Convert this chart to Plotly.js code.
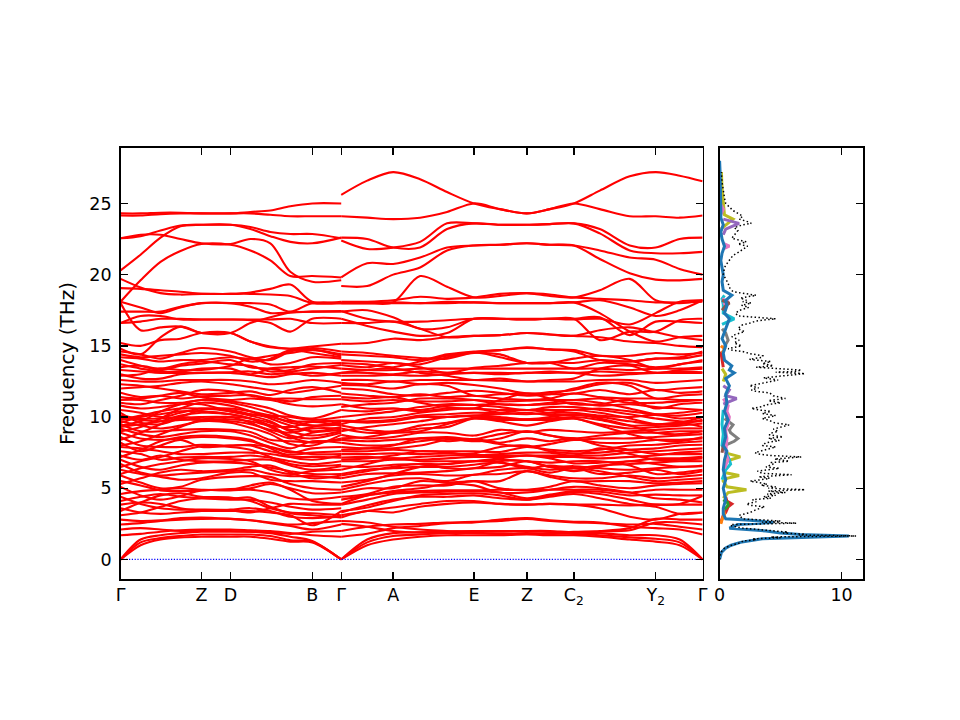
<!DOCTYPE html>
<html><head><meta charset="utf-8">
<script src="https://cdn.plot.ly/plotly-3.0.1.min.js"></script>
<style>html,body{margin:0;padding:0;background:#fff}</style></head>
<body><div id="chart" style="width:960px;height:720px"></div>
<script>
const tickPos=[0,81,110,192,221,273,354,407,454,536,583];
const tickText=["Γ","Z","D","B","Γ","A","E","Z","C<sub>2</sub>","Y<sub>2</sub>","Γ"];
const leftQ=[0,20,40,60,81,110,130,150,170,192,221];
const rightQ=[221,247,273,300,327,354,380,407,430,454,480,510,536,560,583];
const zeroLineQ=[0,583];
const zeroLineF=[0,0];
const leftBands=[
[0,1.0,1.4,1.55,1.6,1.6,1.6,1.45,1.25,1.2,0],
[0,1.2,1.5,1.65,1.75,1.75,1.75,1.65,1.35,1.25,0],
[0,1.4,1.7,1.85,1.95,1.95,1.95,1.85,1.6,1.3,0],
[1.7,1.8,1.95,2.05,2.1,2.1,2.05,2.0,1.85,1.7,1.6],
[2.1,2.2,2.1,2.0,2.0,2.0,1.95,1.9,1.8,1.95,2.0],
[2.45,2.55,2.7,2.8,2.85,2.85,2.75,2.55,2.35,2.1,2.45],
[2.8,2.7,2.75,2.9,2.95,2.85,2.75,2.6,2.45,2.55,2.7],
[3.1,3.3,3.7,4.1,4.3,4.25,4.35,3.7,3.25,3.1,2.95],
[3.4,4.0,4.5,4.65,4.4,4.35,4.1,3.6,3.3,3.25,3.1],
[3.6,3.3,3.2,3.3,3.4,3.5,3.6,3.4,3.0,2.9,3.0],
[3.85,4.0,3.9,3.6,3.45,3.4,3.4,3.3,3.1,2.4,3.4],
[4.1,4.4,4.6,4.4,4.3,4.2,4.2,4.0,3.7,3.5,3.6],
[4.4,3.9,3.6,3.5,3.5,3.45,3.3,3.6,3.9,3.85,3.85],
[4.6,4.8,4.9,5.0,4.9,4.9,5.2,5.4,4.9,4.1,3.9],
[5.1,4.5,4.2,4.45,4.85,4.85,4.9,4.7,4.3,4.2,4.4],
[5.3,5.7,6.1,6.3,6.2,6.3,6.5,6.6,6.1,5.7,5.9],
[5.5,5.2,4.85,4.8,4.85,4.95,5.0,5.3,5.0,4.65,4.7],
[5.9,5.4,5.0,5.1,5.6,5.8,5.85,5.8,5.3,5.0,4.9],
[6.0,6.4,6.7,6.9,7.1,7.05,6.9,6.3,6.0,6.2,6.3],
[6.3,6.0,5.8,5.6,5.7,6.1,6.1,5.6,5.5,5.5,5.4],
[6.5,6.9,7.2,7.6,7.95,7.9,7.7,7.2,6.7,6.55,6.65],
[6.7,6.1,5.9,6.0,6.1,6.2,6.3,6.0,5.85,5.85,5.7],
[7.0,6.5,6.3,6.6,6.8,6.8,6.7,6.45,6.2,6.0,6.0],
[7.2,7.7,8.3,8.6,8.7,8.6,8.4,7.8,7.2,7.0,7.3],
[7.3,7.0,7.3,7.0,6.9,6.9,7.0,7.0,6.6,6.3,6.55],
[7.6,7.4,7.0,7.15,7.2,7.2,7.3,7.15,6.9,6.7,6.9],
[7.9,7.8,7.6,7.4,7.4,7.5,7.5,7.4,7.2,7.2,7.15],
[8.0,8.3,8.8,9.3,9.8,10.0,9.6,9.0,8.5,8.9,9.1],
[8.2,7.6,8.0,8.4,7.9,8.0,8.05,7.9,7.6,7.4,7.4],
[8.4,8.9,9.5,10.0,10.5,10.6,10.4,10.1,9.6,9.4,9.6],
[8.6,8.0,7.9,7.9,8.05,8.0,8.0,7.6,7.35,7.5,7.6],
[8.9,8.5,8.4,8.5,8.6,8.5,8.3,7.9,7.5,7.8,7.9],
[9.0,9.3,9.9,10.6,11.0,10.8,10.4,9.9,9.4,9.0,9.3],
[9.2,8.8,8.6,8.8,9.0,9.0,8.7,8.2,7.8,8.3,8.2],
[9.3,9.5,9.7,10.1,10.3,10.2,9.9,9.3,8.6,8.2,8.5],
[9.4,9.7,10.4,10.9,11.2,11.0,10.7,10.3,9.8,9.4,9.5],
[9.5,9.0,9.0,9.1,9.15,9.1,8.95,8.4,8.3,8.25,8.4],
[9.6,10.0,10.2,10.4,10.4,10.2,9.9,9.4,8.7,8.5,8.9],
[9.7,9.4,9.2,9.4,9.7,9.6,9.25,8.8,8.1,8.0,8.75],
[9.8,10.1,10.4,10.6,10.6,10.4,10.1,9.7,9.0,8.7,9.0],
[9.9,9.8,9.7,9.8,9.8,9.7,9.5,9.1,8.9,9.2,9.2],
[10.1,9.9,9.9,10.0,9.85,9.85,9.7,9.4,9.3,9.65,9.4],
[10.3,9.6,9.5,9.9,10.0,10.0,9.9,9.6,9.1,9.3,9.7],
[10.5,10.3,10.0,10.3,10.6,10.5,10.2,10.0,9.7,9.7,9.75],
[10.8,10.6,10.7,10.9,10.9,10.4,10.2,10.1,10.0,9.8,10.0],
[11.0,10.9,11.2,11.5,11.9,11.8,11.5,11.3,11.1,11.4,11.5],
[11.2,11.2,11.0,11.0,11.2,11.1,10.9,10.6,10.1,9.9,10.5],
[11.4,11.3,11.5,11.7,11.4,11.2,11.3,11.2,10.9,10.75,10.9],
[11.7,11.4,11.5,11.3,11.45,11.5,11.55,11.3,11.3,11.25,11.25],
[12.0,12.1,12.2,12.4,12.5,12.3,12.1,11.9,11.7,11.9,12.2],
[12.3,12.2,12.0,11.8,11.6,11.7,11.8,11.55,11.9,12.1,11.7],
[12.6,12.5,12.5,12.6,12.6,12.6,12.5,12.3,12.4,12.6,12.4],
[12.9,13.0,13.4,13.3,13.3,13.6,14.1,13.7,13.8,14.2,14.1],
[13.0,12.7,12.7,13.0,13.1,13.1,12.95,12.8,13.0,13.1,12.9],
[13.3,13.2,13.1,13.1,13.1,13.15,13.2,13.0,13.1,12.9,13.1],
[13.5,13.6,13.4,13.7,13.9,13.7,13.6,13.2,13.3,13.7,13.8],
[13.7,13.4,13.2,13.2,13.4,13.4,13.0,13.4,13.5,13.55,13.4],
[14.0,13.6,13.3,13.6,13.75,14.0,13.5,13.4,13.2,13.4,13.65],
[14.2,14.1,13.9,14.0,14.0,14.2,14.1,14.3,14.5,14.7,14.4],
[14.4,14.2,14.3,14.4,14.5,14.3,13.9,14.1,14.7,14.5,14.2],
[14.6,14.4,14.1,14.5,14.85,14.6,14.2,14.0,14.6,14.85,14.6],
[14.8,14.4,15.6,16.35,15.9,15.9,15.3,14.95,14.8,14.75,14.3],
[15.2,15.0,15.4,15.5,15.9,15.9,15.3,14.9,14.8,14.95,15.15],
[18.0,16.1,16.3,16.35,15.9,15.9,16.6,17.0,17.35,17.4,17.4],
[16.6,17.1,17.1,16.85,16.85,16.85,16.85,16.85,16.9,16.6,16.6],
[16.6,16.7,16.9,16.9,16.85,16.85,16.8,16.6,16.0,16.9,16.9],
[17.4,17.4,17.4,17.75,18.0,18.0,17.75,17.3,17.35,17.4,17.45],
[18.1,17.7,17.3,17.7,18.0,18.0,18.0,17.9,17.4,18.0,18.0],
[19.05,19.0,18.9,18.8,18.65,18.65,18.65,18.6,18.5,18.0,18.0],
[19.7,19.1,18.7,18.6,18.65,18.65,18.75,19.0,19.3,18.1,18.1],
[18.1,19.6,20.9,21.66,22.15,22.1,21.7,21.0,19.9,19.9,19.8],
[22.55,22.8,22.8,22.5,22.2,22.15,22.5,22.2,20.2,19.5,19.6],
[20.3,21.4,22.6,23.4,23.5,23.5,23.2,22.7,22.3,22.2,22.6],
[22.55,22.7,23.1,23.45,23.5,23.5,23.35,23.0,22.85,22.85,22.55],
[24.15,24.15,24.25,24.3,24.3,24.3,24.3,24.2,24.1,24.1,24.1],
[24.3,24.3,24.35,24.35,24.3,24.3,24.4,24.5,24.8,25.0,25.0]
];
const rightBands=[
[0,1.0,1.4,1.6,1.7,1.7,1.7,1.75,1.7,1.7,1.6,1.4,1.25,1.0,0],
[0,1.2,1.65,1.75,1.85,1.85,1.8,1.85,1.8,1.8,1.7,1.55,1.45,1.2,0],
[0,1.4,1.85,1.9,1.95,2.0,2.0,2.0,1.95,1.9,1.85,1.7,1.7,1.4,0],
[1.6,1.8,2.2,2.35,2.55,2.6,2.8,2.9,2.75,2.65,2.6,2.3,2.2,2.1,1.75],
[2.0,2.3,2.45,2.5,2.6,2.65,2.7,2.85,2.7,2.6,2.55,2.45,2.5,2.3,2.1],
[2.5,2.3,2.0,1.9,1.95,2.0,1.95,2.0,2.0,1.9,1.95,2.05,2.6,2.6,2.45],
[2.7,2.6,2.3,2.1,2.0,1.9,1.8,1.8,1.85,1.95,2.0,2.2,2.85,2.8,2.8],
[2.95,3.4,3.3,3.7,3.9,4.0,3.9,3.85,3.9,3.85,3.6,3.0,2.8,3.2,3.3],
[3.1,3.4,3.65,3.9,4.1,4.1,3.9,3.85,3.9,3.85,3.85,3.8,3.85,3.85,3.85],
[3.3,3.8,4.2,4.4,4.4,4.5,4.3,4.2,4.4,4.6,4.3,3.9,3.7,3.2,3.3],
[3.4,3.65,4.1,4.5,4.6,4.65,4.5,4.2,4.5,4.7,4.6,4.2,3.85,3.9,4.45],
[3.85,4.2,4.6,4.7,4.75,4.8,4.7,4.3,4.55,4.8,4.75,4.5,4.55,4.5,4.5],
[3.9,4.5,4.7,4.8,4.85,4.85,4.9,4.85,4.9,4.9,4.9,4.7,4.9,4.9,4.9],
[4.2,4.5,4.8,5.0,5.3,5.2,4.7,4.7,4.9,5.1,5.0,4.7,4.3,4.2,4.0],
[4.4,4.6,5.1,5.2,5.2,5.5,5.0,4.9,5.1,5.5,5.2,5.0,5.2,5.3,5.35],
[4.7,5.0,5.0,5.5,5.4,5.5,5.5,6.2,5.8,5.5,5.5,5.5,5.35,5.4,5.5],
[4.9,5.3,5.6,5.7,5.5,5.95,6.0,6.2,5.9,5.7,5.7,5.9,5.7,5.8,5.95],
[5.1,5.5,6.0,6.5,6.7,6.9,6.8,6.5,6.3,6.4,6.2,5.8,5.5,5.6,5.7],
[5.4,5.6,5.9,6.0,5.9,5.95,6.3,6.4,6.1,6.4,6.0,6.1,6.3,6.0,6.2],
[5.7,6.0,6.05,6.1,6.2,6.4,6.5,6.9,6.5,6.55,6.4,6.3,6.4,6.5,6.55],
[5.9,6.2,6.5,6.7,6.4,6.4,6.9,6.9,6.5,6.2,6.5,6.9,6.7,6.5,6.6],
[6.0,6.3,6.4,6.5,6.5,6.65,6.8,6.4,6.6,6.4,6.6,6.7,6.8,6.9,6.9],
[6.3,6.7,7.1,6.9,6.9,6.9,7.0,6.9,6.8,6.9,6.9,6.6,6.0,6.1,6.3],
[6.55,6.5,6.65,6.7,6.7,6.9,7.1,7.3,7.1,6.75,6.8,6.9,7.1,7.1,7.2],
[6.9,6.9,7.0,7.0,7.1,7.2,7.2,7.3,7.2,7.2,7.1,7.2,7.3,7.5,7.6],
[7.0,7.1,7.3,7.6,7.5,7.3,7.4,7.5,7.5,7.3,7.8,7.4,7.0,7.0,7.1],
[7.15,7.2,7.1,7.2,7.3,7.35,7.3,7.3,7.3,7.3,7.3,7.5,7.6,7.7,7.8],
[7.4,7.4,7.45,7.4,7.45,7.45,7.9,8.0,7.6,7.45,7.5,7.7,7.8,8.0,8.05],
[7.6,7.6,7.7,7.6,7.6,7.6,7.55,7.9,7.7,7.6,7.7,8.0,8.05,8.2,8.3],
[7.7,7.8,8.0,8.5,8.3,8.45,8.2,8.5,8.3,8.5,8.0,7.7,7.4,7.4,7.4],
[7.9,7.8,7.8,8.0,8.4,8.4,8.1,7.9,8.1,8.4,8.2,8.2,8.4,8.4,8.5],
[8.2,8.0,8.05,8.3,8.5,8.3,8.5,9.0,8.7,8.4,8.5,8.5,8.6,8.7,8.8],
[8.4,8.3,8.4,8.5,8.6,8.45,8.8,9.0,8.7,8.5,8.7,8.9,8.9,9.0,9.0],
[8.5,8.6,8.9,9.2,9.3,9.9,9.7,9.4,9.7,9.9,9.4,8.8,8.4,8.3,8.6],
[8.75,8.5,8.6,8.9,8.9,8.7,9.1,8.95,9.1,9.0,8.9,9.0,9.1,9.2,9.2],
[9.0,9.3,9.5,9.7,10.0,10.1,10.0,9.85,10.0,10.2,9.9,9.4,8.9,8.8,9.0],
[9.2,8.9,8.9,9.0,9.5,9.9,9.8,9.8,9.8,9.9,9.5,9.2,9.3,9.4,9.55],
[9.4,9.1,9.0,9.4,9.6,9.95,9.9,9.85,9.9,10.0,9.8,9.4,9.45,9.5,9.8],
[9.5,9.9,10.0,10.3,10.5,10.6,10.3,10.2,10.3,10.5,10.3,9.9,9.5,9.6,9.3],
[9.7,9.6,9.7,10.0,10.0,10.1,10.2,10.3,10.15,10.15,10.0,9.7,9.5,9.6,10.0],
[9.75,9.7,9.8,10.1,10.2,10.3,10.3,10.5,10.3,10.3,10.1,10.0,10.15,9.9,10.0],
[10.0,10.2,10.4,10.7,10.9,10.85,10.7,10.5,10.7,10.7,10.5,10.2,9.9,9.7,9.7],
[10.5,10.4,10.6,10.4,10.6,10.6,10.5,10.5,10.5,10.5,10.6,10.4,10.2,10.3,10.5],
[10.7,10.9,11.0,11.3,11.3,11.2,10.9,10.85,11.0,11.2,11.0,10.6,10.2,10.1,10.3],
[10.9,10.6,10.6,10.5,10.8,10.85,10.9,10.85,10.9,11.0,10.8,10.9,10.7,10.6,10.5],
[11.25,11.1,11.2,11.1,11.1,11.2,11.1,11.15,11.2,11.2,11.3,11.0,11.0,11.1,11.2],
[11.4,11.3,11.4,11.0,10.7,10.6,11.2,11.65,11.3,10.9,10.9,11.2,10.6,10.9,11.0],
[11.65,11.5,11.4,11.6,11.4,11.5,11.3,11.2,11.3,11.65,11.4,11.3,11.3,11.2,11.2],
[12.0,11.9,11.6,11.5,11.7,11.85,11.7,11.5,11.6,12.0,12.4,12.2,11.3,11.5,11.6],
[12.25,12.2,12.0,12.3,12.2,11.5,11.6,11.65,11.6,11.65,11.9,11.6,11.9,11.7,11.8],
[12.4,12.3,12.5,12.3,12.4,12.25,12.0,11.65,11.75,11.9,12.3,12.4,11.9,12.0,12.1],
[12.6,12.6,12.5,12.6,12.6,12.6,12.55,12.5,12.5,12.5,12.6,12.6,12.4,12.5,12.6],
[12.9,12.9,12.95,12.9,13.0,13.1,13.0,13.1,13.1,13.1,12.9,13.0,13.1,13.1,13.1],
[13.1,13.1,13.0,13.2,13.1,13.1,13.1,13.1,13.2,13.1,13.2,13.1,13.1,13.2,13.15],
[13.1,13.3,13.4,13.1,12.9,12.6,12.7,12.5,12.6,12.7,13.4,13.6,13.1,13.3,13.4],
[13.4,13.3,13.3,13.4,13.4,13.4,13.4,13.4,13.4,13.4,13.4,13.3,13.4,13.4,13.5],
[13.65,13.5,13.8,13.5,13.1,13.45,13.6,13.8,13.8,13.4,13.8,13.7,13.5,13.7,14.0],
[13.8,13.7,13.5,13.9,14.3,14.55,14.2,13.8,13.8,14.1,14.3,14.0,13.4,13.7,13.9],
[14.0,13.9,13.8,13.7,14.2,14.5,14.4,13.8,13.85,13.8,14.0,13.9,14.1,14.1,14.35],
[14.4,14.3,14.2,14.0,14.4,14.6,14.7,14.85,14.75,14.6,14.0,13.9,14.1,14.2,14.6],
[14.6,14.5,14.3,14.15,14.1,14.55,14.7,14.9,14.75,14.7,14.3,14.3,14.5,14.4,14.5],
[15.15,15.2,15.5,15.4,15.6,15.7,15.75,15.9,15.8,15.7,15.6,15.3,15.2,15.0,14.9],
[16.6,16.6,16.7,16.2,15.6,15.7,15.75,15.9,15.8,15.7,16.1,16.3,15.95,15.6,15.4],
[16.9,16.4,16.0,15.7,15.9,16.9,16.9,16.85,16.9,16.85,16.9,16.5,17.3,18.1,18.2],
[17.45,16.9,16.7,16.7,16.8,16.9,16.9,16.85,16.9,16.9,15.4,16.0,16.0,16.8,16.9],
[17.4,17.5,17.0,16.2,16.3,16.9,16.9,16.9,16.9,16.9,17.0,15.75,16.7,16.7,16.6],
[18.0,18.0,18.0,18.0,18.1,18.05,18.0,18.0,18.0,18.05,17.3,16.0,15.3,15.6,15.7],
[18.0,18.0,18.05,18.0,18.0,18.05,18.0,18.0,18.0,18.05,18.2,17.7,17.1,17.5,18.2],
[18.1,18.1,18.2,18.45,18.3,18.4,18.65,18.7,18.6,18.4,18.3,18.2,18.05,18.05,18.1],
[18.0,18.0,18.05,19.9,19.15,18.4,18.5,18.7,18.5,18.4,18.9,19.7,18.2,18.0,18.2],
[19.2,19.2,20.0,20.5,21.7,22.05,22.1,22.2,22.1,22.05,21.1,20.1,19.65,19.6,19.7],
[19.8,20.8,20.75,21.2,21.9,22.05,22.1,22.2,22.1,22.05,21.7,21.2,21.05,20.4,20.0],
[22.4,21.8,21.9,22.3,23.6,23.6,23.5,23.5,23.55,23.6,22.9,21.7,21.5,21.5,21.6],
[22.6,22.5,21.9,21.9,23.2,23.6,23.5,23.5,23.55,23.6,23.2,22.05,21.9,22.5,22.6],
[24.1,24.0,23.9,24.0,24.4,25.0,24.6,24.3,24.6,25.0,24.6,24.1,24.1,24.0,24.15],
[25.6,26.6,27.2,26.7,25.8,25.0,24.6,24.3,24.6,25.0,25.9,26.9,27.2,26.95,26.55]
];
const totalF=[0,0.5,0.8,1,1.2,1.3,1.38,1.45,1.52,1.58,1.65,1.72,1.78,1.85,1.92,2,2.1,2.2,2.35,2.45,2.55,2.62,2.7,2.75,2.85,3.1,3.3,3.5,3.7,3.8,3.9,4.05,4.2,4.3,4.4,4.5,4.6,4.7,4.8,4.9,5,5.1,5.2,5.3,5.4,5.5,5.6,5.7,5.8,5.95,6.05,6.2,6.3,6.4,6.5,6.7,6.8,6.9,7.05,7.2,7.3,7.4,7.5,7.7,7.9,8,8.2,8.35,8.5,8.6,8.75,8.85,9,9.15,9.3,9.45,9.6,9.75,9.9,10.1,10.25,10.4,10.5,10.6,10.75,10.85,11,11.15,11.3,11.5,11.7,11.8,11.9,12.05,12.2,12.4,12.6,12.75,12.9,13.05,13.15,13.2,13.3,13.4,13.5,13.6,13.75,13.9,14.05,14.2,14.3,14.45,14.6,14.7,14.8,15,15.2,15.4,15.65,15.8,16,16.2,16.45,16.6,16.75,16.9,17.1,17.3,17.5,17.7,17.85,18,18.1,18.2,18.35,18.55,18.8,19.1,19.4,19.7,20,20.2,20.5,20.9,21.35,21.6,21.8,22,22.15,22.3,22.55,22.8,23.1,23.3,23.5,23.6,23.75,23.9,24.1,24.3,24.5,24.75,25,25.4,25.9,26.5,27.2];
const totalV=[0,0.1,0.4,1,1.8,1.9,3,2.7,5,4.2,11.2,6.5,7,5.2,5.6,4.6,3,1.9,1,0.9,6.3,3.5,5,3.5,1.9,1.6,2.5,3,3.7,2.5,2.2,3,2.7,4.2,3.6,4.6,3.9,5.4,4,7,4,4.6,3.4,3.9,3,2.5,3.4,4.1,3.2,5.9,3.5,3.1,4,4.9,3.8,4.4,4.2,5.7,4.5,6.7,4.2,3.2,2.9,3.8,4.6,3.5,3.8,4.9,4,5.2,4.1,4.1,4.8,4.4,5,5.7,4.5,4.1,3.5,4.6,3.5,4.2,3.2,2.6,3.6,3.7,5,4,5.4,4.4,4.1,3,2.6,3.2,2.45,3.5,4.8,3.6,5.6,7,4.6,6.2,6.7,4.6,3,4.4,3.5,4.2,2.45,3.5,3.55,2.5,1.9,1,0.7,1.8,1.2,1.6,1,1.3,2.05,1.5,1.8,2.5,3,4.6,1.5,1.3,1.65,2.4,1.8,2.6,1.9,2.2,1.7,3,1.1,0.8,0.7,0.5,0.3,0.35,0.4,0.7,1.1,1.6,1.9,2.3,1.5,2.2,1,1.2,1.5,1.2,1.9,2.6,2.2,1.6,1.9,1.5,1.1,0.8,0.5,0.4,0.3,0.2,0.15];
const blueF=[0,0.5,0.8,1.0,1.2,1.45,1.65,1.75,1.85,2.0,2.2,2.45,2.6,2.75,2.85,3.2,3.6,4.2,5,5.6,6.3,7,7.6,8,8.6,9.2,9.8,10.4,11,11.6,12.2,12.7,13.1,13.3,13.6,14,14.5,15,15.5,16,16.5,16.9,17.3,17.8,18.2,18.55,18.9,19.5,20,20.5,21,21.5,22,22.5,23,23.5,24,24.5,25,26,27,28];
const blueV=[0,0.15,0.5,0.95,1.7,3.5,10.6,6.6,5.0,3.8,0.8,1.5,4.4,2.5,0.5,0.3,0.3,0.5,0.3,0.5,0.3,0.4,0.6,0.3,0.5,0.4,0.7,0.4,0.6,0.5,0.8,0.5,1.2,0.8,1.0,0.4,0.3,0.5,0.2,0.4,0.6,0.8,0.4,0.6,0.5,1.0,0.3,0.2,0.3,0.2,0.1,0.2,0.4,0.2,0.1,0.3,0.1,0.1,0.1,0.05,0.05,0];
const oliveF=[4.3,4.7,4.9,5.1,5.5,5.7,5.9,6.1,6.9,7.2,7.5,null,12.5,13,13.4,null,23.2,23.9,24.2,25,26,27.2];
const oliveV=[0.3,0.7,2.2,0.6,0.3,0.6,1.6,0.4,0.5,1.7,0.4,null,0.3,0.5,0.2,null,0.1,1.1,0.4,0.3,0.2,0.15];
const cyanF=[5.6,6,6.3,6.7,7.0,7.4,8,8.8,9.5,10.5,null,16.5,16.9,17.3,17.9,18.3,18.55];
const cyanV=[0.2,0.4,0.5,0.9,0.8,0.6,0.2,0.3,0.2,0.3,null,0.2,1.2,0.3,0.3,0.2,0.4];
const grayF=[8,8.3,8.5,8.9,9.1,9.45,9.9,null,14.8,15.1,15.4,15.9,16.2];
const grayV=[0.4,1.2,1.5,0.9,0.8,1.1,0.4,null,0.3,0.5,0.7,0.5,0.2];
const pinkF=[6.4,7,7.5,8.5,9,9.5,10,10.4,10.8,11.3,null,17.9,18.1,18.3,null,21.8,22,22.2,null,24.2,24.6,24.9];
const pinkV=[0.4,0.7,0.5,0.6,0.5,0.7,0.8,0.6,0.7,0.3,null,0.3,0.7,0.2,null,0.3,0.8,0.3,null,0.1,0.3,0.1];
const purpleF=[10.9,11.3,11.5,11.9,12.2,null,22.8,23.2,23.6,23.9];
const purpleV=[0.3,1.4,0.5,0.8,0.3,null,0.3,0.5,1.6,0.3];
const brownF=[7.5,8,null,17.5,17.8,18,18.2];
const brownV=[0.2,0.3,null,0.2,0.5,0.8,0.2];
const redF=[2.6,2.9,3.1,3.3,3.5,3.7,3.9,4.1,4.4,null,13.5,14.2,14.6];
const redV=[0.1,0.2,0.3,0.5,0.6,0.7,1.0,0.6,0.5,null,0.3,0.2,0.1];
const greenF=[3.5,3.8,4.0,4.2];
const greenV=[0.4,0.7,0.65,0.3];
const orangeF=[2.5,2.8,3.2,3.5,null,14.5,14.8,15];
const orangeV=[0.1,0.2,0.4,0.3,null,0.2,0.4,0.1];
const pdosColors=["#bcbd22","#17becf","#7f7f7f","#e377c2","#9467bd","#8c564b","#d62728","#2ca02c","#ff7f0e","#1f77b4"];
const pdosF=[oliveF,cyanF,grayF,pinkF,purpleF,brownF,redF,greenF,orangeF,blueF];
const pdosV=[oliveV,cyanV,grayV,pinkV,purpleV,brownV,redV,greenV,orangeV,blueV];

const traces=[];
const bandLine={color:"#ff0000",width:2.1,shape:"spline",smoothing:0.9};
leftBands.forEach(b=>traces.push({x:leftQ,y:b,type:"scatter",mode:"lines",line:bandLine,xaxis:"x",yaxis:"y",hoverinfo:"skip"}));
rightBands.forEach(b=>traces.push({x:rightQ,y:b,type:"scatter",mode:"lines",line:bandLine,xaxis:"x",yaxis:"y",hoverinfo:"skip"}));
traces.push({x:zeroLineQ,y:zeroLineF,type:"scatter",mode:"lines",line:{color:"#0000ff",width:1.2,dash:"1.2px,1.6px"},xaxis:"x",yaxis:"y",hoverinfo:"skip"});
pdosColors.forEach((c,i)=>traces.push({x:pdosV[i],y:pdosF[i],type:"scatter",mode:"lines",line:{color:c,width:3},xaxis:"x2",yaxis:"y2",hoverinfo:"skip"}));
traces.push({x:totalV,y:totalF,type:"scatter",mode:"lines",line:{color:"#000",width:1.5,dash:"1.5px,2.4px"},xaxis:"x2",yaxis:"y2",hoverinfo:"skip"});

const axisCommon={showgrid:false,zeroline:false,showline:true,linecolor:"#000",linewidth:1.5,ticks:"inside",ticklen:7,tickwidth:1.4,tickcolor:"#000",tickfont:{family:"DejaVu Sans",size:17.5,color:"#000"}};
const yDomain=[(720-579.4)/720,(720-147.6)/720];
const layout={width:960,height:720,margin:{l:0,r:0,t:0,b:0},paper_bgcolor:"#fff",plot_bgcolor:"#fff",showlegend:false,
 xaxis:Object.assign({},axisCommon,{domain:[120.6/960,702.6/960],range:[0,583],tickmode:"array",tickvals:tickPos,ticktext:tickText,mirror:"ticks",anchor:"y",ticklabelstandoff:-1}),
 yaxis:Object.assign({},axisCommon,{domain:yDomain,range:[-1.40,28.92],tickmode:"array",tickvals:[0,5,10,15,20,25],ticktext:["0","5","10","15","20","25"],mirror:"ticks",anchor:"x",ticklabelstandoff:4,
  title:{text:"Frequency (THz)",font:{family:"DejaVu Sans",size:20,color:"#000"},standoff:9}}),
 xaxis2:Object.assign({},axisCommon,{domain:[719.6/960,863.4/960],range:[0,11.79],tickmode:"array",tickvals:[0,10],ticktext:["0","10"],mirror:"ticks",anchor:"y2",ticklabelstandoff:-1}),
 yaxis2:Object.assign({},axisCommon,{domain:yDomain,range:[-1.40,28.92],tickmode:"array",tickvals:[0,5,10,15,20,25],showticklabels:false,side:"right",mirror:true,anchor:"x2"})
};
Plotly.newPlot("chart",traces,layout,{displayModeBar:false,staticPlot:true});
</script></body></html>
